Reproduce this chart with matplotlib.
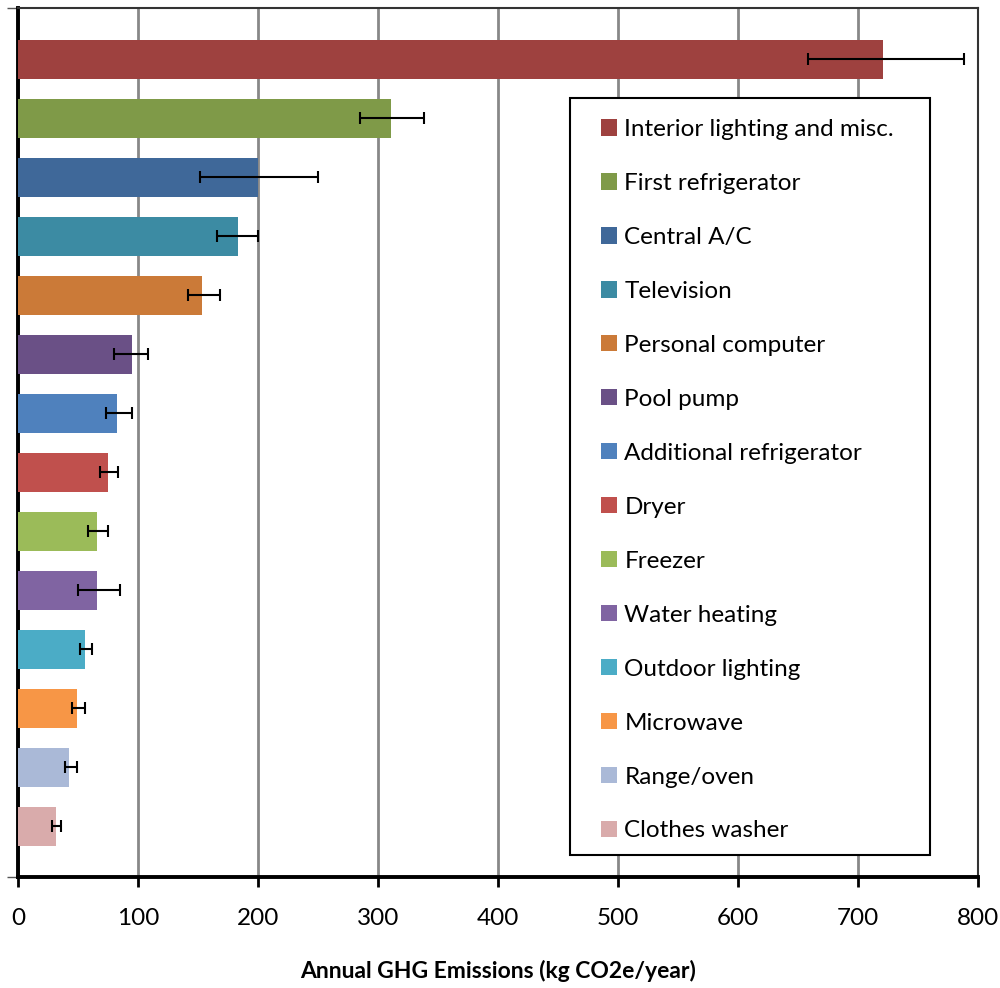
import matplotlib.pyplot as plt
from matplotlib.patches import Patch, Rectangle

# appliances, top to bottom
categories = ["Interior lighting and misc.", "First refrigerator", "Central A/C",
              "Television", "Personal computer", "Pool pump",
              "Additional refrigerator", "Dryer", "Freezer", "Water heating",
              "Outdoor lighting", "Microwave", "Range/oven", "Clothes washer"]
values = [721, 311, 200, 183, 153, 95, 82.5, 75, 66, 66, 56, 49, 42.5, 31.5]
err_low = [63, 26, 48.5, 17, 11.5, 15, 9.5, 7, 8, 16, 4, 4, 3, 3.5]
err_high = [67, 27, 50, 17, 15, 13, 12.5, 8, 9, 19, 6, 6.5, 6.5, 4.5]
colors = ["#9E413F", "#7F9A48", "#3F6899", "#3C8BA3", "#CB7A38", "#6A5086",
          "#4F81BD", "#C0504D", "#9BBB59", "#8064A2", "#4BACC6", "#F79646",
          "#AAB9D7", "#D9ABAB"]
xticks = [0, 100, 200, 300, 400, 500, 600, 700, 800]

plt.rcParams['font.family'] = ['Lato', 'DejaVu Sans']

fig = plt.figure(figsize=(10, 9.88), dpi=100)
ax = fig.add_axes([0.018, 0.112, 0.96, 0.8795])

ypos = list(range(len(categories)))
ax.barh(ypos, values, height=0.66, color=colors, zorder=3)
ax.errorbar(values, ypos, xerr=[err_low, err_high], fmt='none', ecolor='black',
            elinewidth=1.5, capsize=4, capthick=1.5, zorder=4)

ax.set_xlim(0, 800)
ax.set_ylim(13.865, -0.865)
ax.set_xticks(xticks)
ax.set_xticklabels([str(t) for t in xticks], fontsize=17.5)
ax.set_yticks([13.865, -0.865])
ax.set_yticklabels([])
ax.tick_params(axis='x', direction='out', length=7, width=2, pad=15, color='black')
ax.tick_params(axis='y', direction='out', length=8, width=1, color='#555555')
ax.grid(axis='x', color='#888888', linewidth=2, zorder=0)

for side in ['left', 'bottom']:
    ax.spines[side].set_linewidth(2.8)
    ax.spines[side].set_color('black')
for side in ['top', 'right']:
    ax.spines[side].set_linewidth(1.5)
    ax.spines[side].set_color('#333333')

ax.set_xlabel("Annual GHG Emissions (kg CO2e/year)", fontsize=16.5,
              fontweight='bold', labelpad=22)

# legend box drawn separately so its size can match the original
W, H = 1000, 988
box = Rectangle((570 / W, 1 - 855 / H), 360 / W, 757 / H, transform=fig.transFigure,
                facecolor='white', edgecolor='black', linewidth=1.5, zorder=5,
                clip_on=False)
ax.add_patch(box)

handles = [Patch(facecolor=c, edgecolor='none') for c in colors]
leg = ax.legend(handles, categories, loc='upper left',
                bbox_to_anchor=(601 / W, 1 - 119 / H), bbox_transform=fig.transFigure,
                fontsize=17.5, handlelength=0.66, handleheight=0.66, handletextpad=0.3,
                labelspacing=1.356, borderpad=0, borderaxespad=0, frameon=False)
leg.set_zorder(6)

fig.savefig("out.png", dpi=100)
